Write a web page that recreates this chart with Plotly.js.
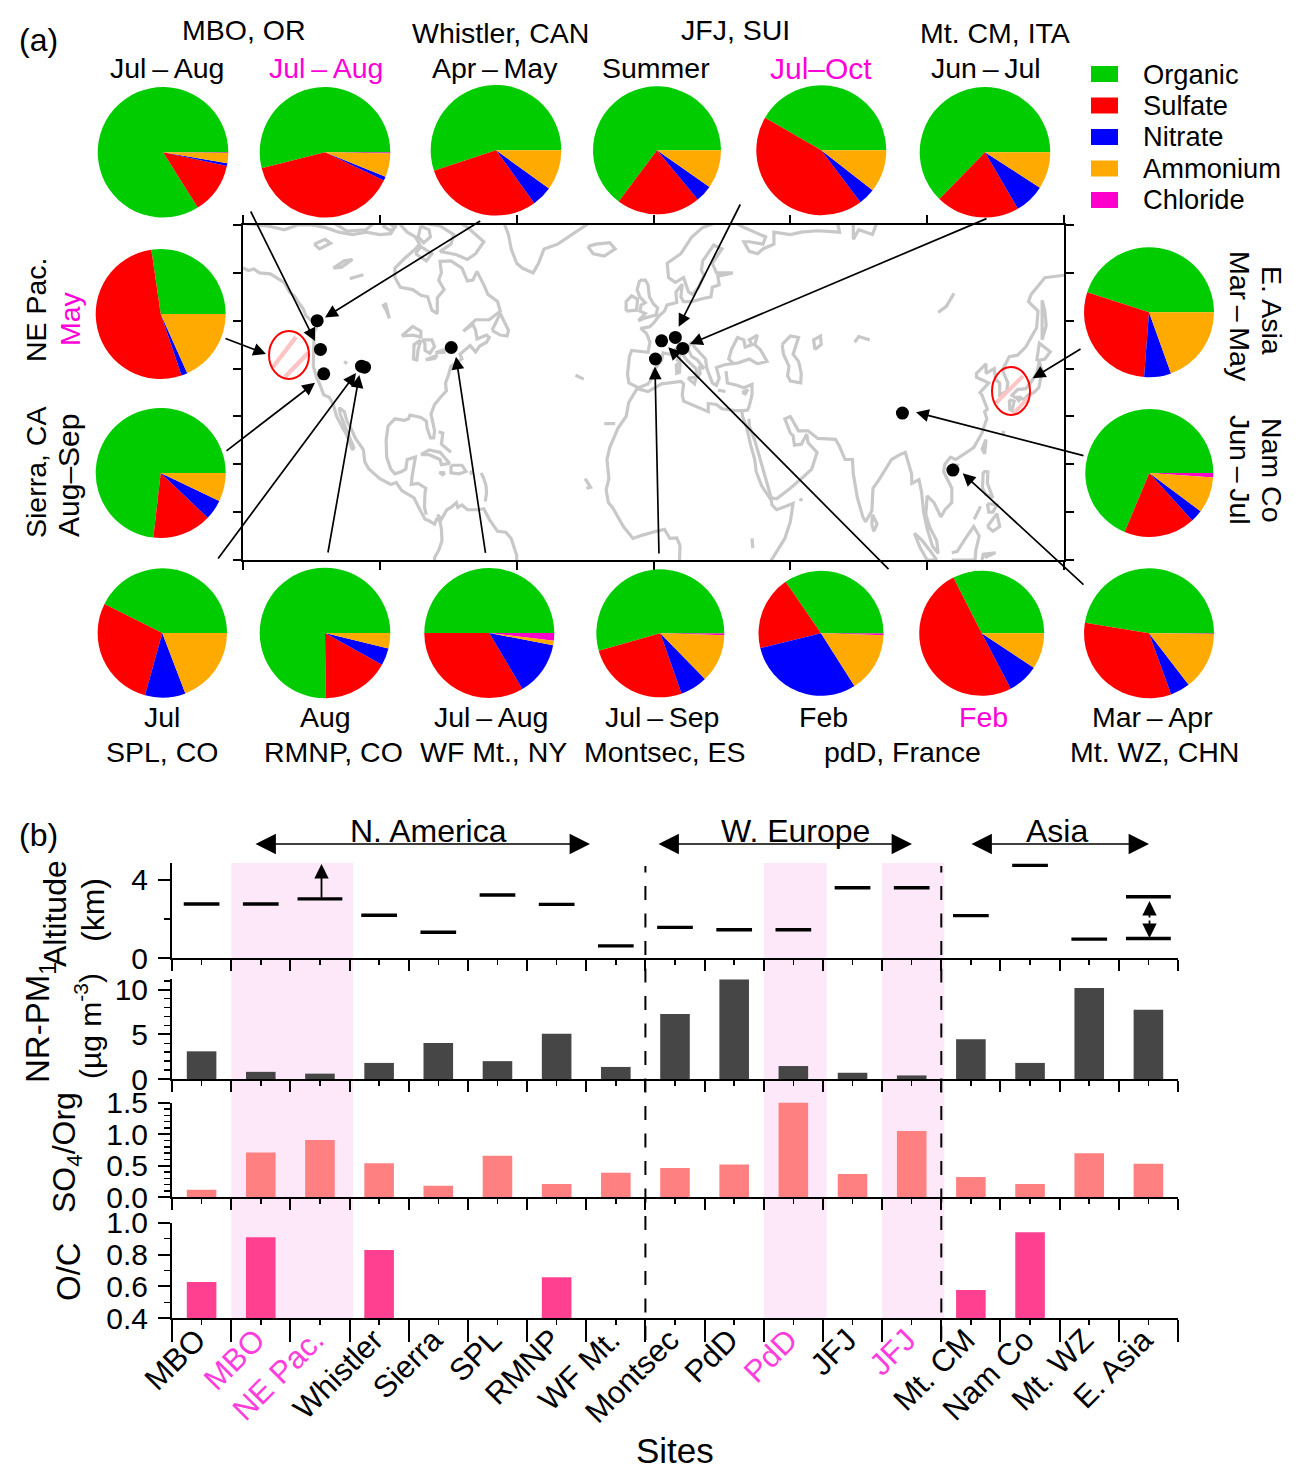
<!DOCTYPE html>
<html><head><meta charset="utf-8">
<script src="https://cdn.plot.ly/plotly-3.0.1.min.js"></script>
<style>html,body{margin:0;padding:0;background:#fff}</style></head>
<body><div id="g" style="width:1303px;height:1481px"></div>
<script>
// ---------- DATA: panel (b) ----------
const sites=["MBO","MBO","NE Pac.","Whistler","Sierra","SPL","RMNP","WF Mt.","Montsec","PdD","PdD","JFJ","JFJ","Mt. CM","Nam Co","Mt. WZ","E. Asia"];
const siteIsFree=[0,1,1,0,0,0,0,0,0,0,1,0,1,0,0,0,0];
const altitude=[2.77,2.77,3.03,2.19,1.32,3.23,2.75,0.62,1.57,1.45,1.45,3.6,3.6,2.17,4.75,0.97,1.0];
const altitudeUpper=[null,null,null,null,null,null,null,null,null,null,null,null,null,null,null,null,3.14];
const nrpm1=[3.1,0.8,0.6,1.8,4.03,2.0,5.07,1.35,7.27,11.15,1.45,0.7,0.4,4.44,1.8,10.2,7.76];
const so4org=[0.12,0.71,0.91,0.54,0.185,0.66,0.21,0.39,0.465,0.52,1.51,0.37,1.05,0.32,0.21,0.70,0.53];
const oc=[0.628,0.908,null,0.829,null,null,0.657,null,null,null,null,null,null,0.578,0.94,null,null];
// ---------- DATA: pies ----------
const species=["Organic","Sulfate","Nitrate","Ammonium","Chloride"];
const pieNames=["MBO","MBO FT","Whistler","JFJ summer","JFJ FT","Mt. CM","NE Pac.","Sierra","E. Asia","Nam Co","SPL","RMNP","WF Mt.","Montsec","PdD","PdD FT","Mt. WZ"];
const organic=[83.9,53.9,55.0,64.8,41.6,62.7,27.3,73.2,45.0,68.7,42.6,75.2,50.0,54.4,34.6,32.5,47.4];
const sulfate=[12.7,39.0,29.9,21.2,43.6,20.7,52.9,14.7,28.8,18.0,28.1,16.7,33.5,26.0,19.2,50.2,33.1];
const nitrate=[0.7,1.0,5.1,4.3,4.2,7.5,1.5,5.0,6.7,3.1,10.1,4.3,13.5,6.9,30.2,8.0,4.9];
const ammonium=[2.5,5.8,9.9,9.7,10.5,9.1,18.3,7.1,19.5,9.1,19.2,3.8,1.1,12.2,15.5,9.3,14.4];
const chloride=[0.15,0.3,0,0,0,0,0,0,0,1.1,0,0,1.9,0.5,0.5,0,0.15];
// ---------- DATA: sites on the map (lon, lat) ----------
const siteLon=[-122.9,-121.7,-120.5,-106.7,-105.6,-73.9,0.7,2.96,7.98,10.7,90.96,109.4];
const siteLat=[50.0,44.0,38.9,40.5,40.3,44.4,42.0,45.8,46.5,44.2,30.7,18.8];
// ---------- DATA: coastlines and lakes (lon, lat) ----------
const coastNAwest=[[-150,61],[-148,60.5],[-146,60.8],[-144,60],[-140,59.8],[-137,58.8],[-135,58],[-133,56],[-131,55],[-130,54],[-128,52.5],[-127,51],[-125,50],[-123,49],[-124,47.5],[-124,46],[-124.2,43],[-124.3,40.5],[-123,38],[-122,36.8],[-120.5,34.5],[-118.5,34],[-117,32.5],[-115.8,30],[-114,28],[-112,26],[-110,23],[-109.5,23.5],[-111,25.5],[-112.8,28],[-114.5,30.5],[-114.8,31.8],[-113,31],[-112,29],[-110.5,27.5],[-109,25.5],[-106,23],[-105.5,20.5],[-104,19],[-102,18],[-100,17],[-96,15.8],[-94,16.2],[-92,14.5],[-90,13.8],[-87.5,13],[-85.8,11],[-85,10],[-83.5,8.5],[-82,8.2],[-80,7.5],[-79,8.8],[-78,8],[-77.5,6.5],[-77.3,4],[-78.5,2],[-80,0.5],[-80,0]];
const coastNAeast=[[-83,9.5],[-83.7,11],[-83.5,14],[-83.2,15],[-86,16],[-88.5,15.8],[-88.2,17.5],[-87.5,20],[-87,21.5],[-90,21],[-90.5,19],[-92,18.5],[-94.5,18],[-96,19],[-97.5,21.5],[-97.7,25],[-97,28],[-94.5,29.5],[-91,29.2],[-89.5,29.5],[-89,30.3],[-85,29.8],[-83,29],[-82.7,27.5],[-81.5,25.5],[-80.3,25.5],[-80,27],[-81.3,30.5],[-80,32.5],[-77.8,34],[-75.7,35.3],[-76,37],[-75,38.5],[-74,40.5],[-71,41.5],[-70,42],[-70.7,43],[-67,44.8],[-65,43.5],[-63.5,44.7],[-61,45.5],[-60,46.5],[-61,47],[-64.5,46.2],[-65,48],[-66,49.2],[-69.5,47.8],[-65,50.2],[-60,50.2],[-56,52],[-57,54],[-60.5,55.5],[-62,57.5],[-64.5,60.3],[-66,58.5],[-68,58.3],[-70,61],[-74,62.5],[-78,62.4],[-77.5,60],[-78.5,58.5],[-76.5,56.5],[-79,54.8],[-79,51.5],[-81,52.2],[-82.5,55],[-85,55.3],[-88,56.5],[-92.5,57],[-94.5,59],[-94.5,61],[-91,63],[-87,65],[-85.5,66],[-87,67.5],[-90,68.5],[-94,71]];
const coastArctic=[[-150,70.4],[-145,70],[-140,69.7],[-135,69],[-130,70],[-125,70],[-120,69.5],[-115,68.5],[-110,68],[-105,68.5],[-100,68],[-96,68.2],[-94,70]];
const coastVictoria=[[-117,70.5],[-112,68.7],[-105,69],[-102,70.5]];
const coastMelville=[[-85,69.8],[-82,69],[-81.5,67.5],[-84,66.3],[-86,67.5],[-85,69.8]];
const coastKingWilliam=[[-99,69.8],[-96,68.8],[-94.5,69.5],[-97,70.5],[-99,69.8]];
const coastBanks=[[-126,70.5],[-123,70],[-121,70.6]];
const coastBaffin=[[-72,71],[-68,69.5],[-62,66.5],[-65,64],[-68,62.8],[-72,63.8],[-78,64.5],[-74,66],[-73,68],[-78,69.8],[-85,70.5]];
const coastSouthampton=[[-87,64],[-83,62.5],[-81,64],[-85,65.5],[-87,64]];
const coastGreenland=[[-55,71],[-53,68],[-52,65],[-50,62],[-48,61],[-44,60],[-42,62],[-40,65],[-35,66],[-30,68],[-25,70],[-22,71]];
const coastIceland=[[-24,65.5],[-22,64],[-18,63.5],[-14,65],[-16,66.3],[-21,66],[-24,65.5]];
const coastNewfoundland=[[-59,48],[-56,51.5],[-53,48],[-53.5,46.8],[-56,47],[-59,48]];
const coastSAcarib=[[-79,9.5],[-77.5,8.5],[-75.5,10.5],[-74,11],[-72,12],[-71.5,11],[-70,11.5],[-68,10.5],[-64,10.5],[-62,10.7],[-60,8.5],[-57,6],[-54,5.8],[-52,4.5],[-50,1],[-50,0]];
const coastCuba=[[-85,22],[-82,23],[-78,22.5],[-74.5,20.2],[-77.5,19.9],[-78,21],[-82,22],[-85,22]];
const coastHispaniola=[[-74,19.8],[-70,19.8],[-68.5,18.5],[-71,18],[-74,18.2],[-74,19.8]];
const coastJamaica=[[-78.3,18.3],[-76.3,18.2],[-77,17.8],[-78.3,18.3]];
const coastPuertoRico=[[-67.2,18.4],[-65.7,18.3],[-67.2,18]];
const coastBahamas=[[-78.5,26.8],[-77,26.5],[-77.5,24.2],[-76,23.5],[-74,22.5]];
const coastAntilles=[[-63,18.2],[-62,17],[-61.2,15.5],[-61,14],[-61.5,12.2]];
const coastMiddleBaja=[[-114,28],[-113,27]];
const lakeBear=[[-124,66],[-120,67],[-118,66.2],[-122,65],[-124,66]];
const lakeSlave=[[-117,61],[-113,62.5],[-110,62.8],[-114,61.2],[-117,61]];
const lakeAthabasca=[[-111,58.8],[-106,59.6]];
const lakeWinnipeg=[[-98,53.8],[-96.5,50.5],[-97.5,52],[-99,53.5]];
const lakeSuperior=[[-92,46.8],[-88,48.8],[-85,47.8],[-85,46.6],[-88,47],[-92,46.8]];
const lakeMichigan=[[-85,46],[-87.5,45],[-87.7,42],[-86.5,41.8],[-86,44],[-85,46]];
const lakeHuron=[[-84.5,46],[-81,46],[-80,44.6],[-81.7,43.2],[-83.5,43.8],[-83.5,45.2],[-84.5,46]];
const lakeErie=[[-83.3,41.8],[-79,42.8],[-80,42.1],[-83.3,41.8]];
const lakeOntario=[[-79.7,43.3],[-76.3,44],[-76.5,43.4],[-79.7,43.3]];
const lakeSalt=[[-113,41.5],[-112,41]];
const coastAfricaW=[[-6,35.8],[-9,33],[-10,30],[-13,27.5],[-16,23.5],[-17,21],[-16.3,17],[-17.3,14.7],[-16.5,12],[-15,11],[-13.5,9.5],[-11,7],[-7.5,4.5],[-4,5.2],[1,6],[4,6.4],[6,4.5],[8.5,4.6],[9.7,3],[9.5,0]];
const coastAfricaN=[[-6,35.8],[-2,35.2],[3,36.8],[10,37.3],[11,36.8],[10.5,34.5],[11,33.2],[15,32.3],[20,31],[20,32.7],[23,32.5],[25,31.6],[30,31.2],[32.3,31.2],[32.5,30],[34,27.8],[35.5,24],[37,21],[37.5,18.5],[39.5,15.5],[43,12.5],[43.3,11.5],[45,10.5],[51,11.8],[50,8],[48,4.5],[44,1],[42,-1]];
const coastAsiaS=[[34.9,29.5],[35,28],[37,25],[39,21],[41,17.5],[43,13],[45,12.8],[50,15],[55,17.5],[57.8,19],[59.8,22.5],[56.5,24.5],[56,26.3],[54,24.2],[51.5,24],[51,26],[50,26.5],[48,29.5],[50,30],[53,27],[56.5,27],[60,25.4],[66.5,25.2],[68,23.7],[70,21],[72.7,21],[73,18],[74.5,13],[76.5,9],[77.5,8],[79.8,10.3],[80.2,15],[82.3,16.7],[87,21],[90,22],[92,22.5],[94.3,18],[94.4,16],[97,16.8],[98,14],[98.7,10],[100,6.5],[102,2.8],[104,1.4],[103.5,4],[101,6.8],[99.5,9.5],[100,13.4],[102.5,12],[105,9],[106.5,10.5],[109,12],[109,15],[106,18.5],[106.5,20],[108.5,21.5],[110.5,21],[114,22.4],[117,23.5],[120,26.5],[121.8,29.5],[121,31],[122,31.5],[120,34.5],[119.3,35],[122.5,37],[120,37.7],[118,38.2],[118,39],[121.5,41],[121.5,39],[124.5,40],[125,37.7],[126.5,37],[126.5,34.5],[129,35.2],[129.5,37],[127.5,39.7],[130,42.5],[133,42.8],[136,44.5],[140,48.5],[140.5,52],[137,54],[138,55.5],[143,59],[150,59.5]];
const coastEuropeN=[[-5.5,36],[-9,37],[-9.5,38.8],[-8.8,42.5],[-8,43.8],[-2,43.4],[-1.3,45.5],[-2.5,47.3],[-4.7,48.4],[-1.5,48.7],[0,49.5],[2,51],[4,52],[5,53.3],[8.5,53.8],[8.2,56],[10.5,57.6],[10,55],[11,54],[14,54],[18.5,54.7],[21,55],[21.5,57],[24,57.5],[23.5,59.3],[29,60],[23,60],[21.5,62],[25,65],[22,65.8],[18,62.5],[17.5,60.5],[18.5,59.5],[16.5,57],[14.3,55.5],[12.8,56],[11,59],[8,58],[5.5,59],[5,62],[10,64],[14,67.5],[18,69.5],[23,70.5],[28,71],[31,70],[33,69.5],[41,67.5],[40,66],[35,66.5],[33,66.5],[35,64.5],[38,64],[40,65],[44,66],[44,68.5],[50,68],[54,68.5],[60,68.8],[68,68.5],[67,71],[73,71.5],[73,67],[75,69],[80,68],[82,71]];
const coastMed=[[-5.5,36],[-2,36.8],[-0.5,38],[0,39.5],[3,41.8],[3.5,43.3],[6,43],[8.5,44.3],[10.5,43],[12.3,41.7],[15.5,40],[16,38],[17,39],[16.8,40.5],[18.5,40],[16,41.8],[14,42.5],[12.5,44.2],[13.8,45.6],[15,44.5],[19,42],[19.5,40],[21.5,37],[23,36.5],[24,38],[23,40.2],[26,40.8],[29,41],[31,41.2],[35,42],[38,41],[41.5,41.5],[39,44],[37,45],[38,47],[35,46],[36,45],[33.5,44.5],[33,46],[30.7,46.5],[28.5,44],[27.5,42],[29,41.2]];
const coastTurkey=[[26.5,39.5],[27,37],[30.5,36.5],[33,36],[36,36.7],[36,34.5],[34.9,32],[34.3,31.3],[32.3,31.2]];
const coastGB=[[-5,58.5],[-3,58.5],[-2,57.5],[-1.5,55],[0,53.5],[1.5,52.7],[1,51.2],[-3,50.6],[-5.5,50],[-3,51.5],[-5,52],[-4.5,53.3],[-3,53.8],[-5,55],[-6,56.5],[-5,58.5]];
const coastIreland=[[-10,52],[-6.2,52.2],[-5.8,54.5],[-8,55.2],[-10,54],[-10,52]];
const coastCorsica=[[9.4,43],[9.5,41.6],[8.7,41.8],[9.4,43]];
const coastSardinia=[[8.3,41],[9.7,41],[9.5,39.2],[8.5,39],[8.3,41]];
const coastSicily=[[12.5,38],[15.5,38.2],[15,36.8],[12.5,38]];
const coastCrete=[[23.6,35.5],[26.3,35.2]];
const coastCyprus=[[32.4,35],[34.5,35.6],[33.5,34.7],[32.4,35]];
const coastCaspian=[[47,45],[50,46.8],[53,46.5],[52,44.5],[51,43],[53,41.5],[54,39],[53.8,37],[50,37.4],[49,38.5],[49.5,40.5],[47.5,43],[47,45]];
const lakeAral=[[59,44],[58.5,46],[61,46.8],[61.3,45],[59,44]];
const lakeBalkhash=[[73.5,45.5],[75,46.7],[79,46]];
const lakeBaikal=[[104,51.7],[107,53],[109.8,55.7]];
const coastSakhalin=[[142,54.3],[143,52],[143.5,49],[142,46],[142,50],[142,54.3]];
const coastHokkaido=[[140,41.6],[141,45.3],[145,43.5],[143,42],[140,41.6]];
const coastHonshu=[[141,41.4],[142,39.5],[140.8,36],[139,35],[136.8,34.4],[135.5,33.6],[132,34],[131,34.4],[133,35.6],[136,35.8],[138,37.2],[140,39],[141,41.4]];
const coastKyushu=[[130,33.5],[131.8,33.2],[131,31.2],[130.2,31.5],[130,33.5]];
const coastShikoku=[[132.5,34],[134.5,34],[133.5,33.3],[132.5,34]];
const coastRyukyu=[[128,27],[127.7,26.2]];
const coastTaiwan=[[121.5,25.2],[121,22.2],[120.1,23.2],[121.5,25.2]];
const coastHainan=[[109,20],[111,19.8],[109.5,18.2],[109,20]];
const coastLuzon=[[120.5,18.5],[122.2,18.4],[122,16],[124,13],[121.5,13.7],[120.2,15],[120.5,18.5]];
const coastMindanao=[[122,7],[125.5,9.7],[126.5,7],[124,6],[122,7]];
const coastVisayas=[[122,11.8],[125.5,11.5],[124,10],[122.5,10],[122,11.8]];
const coastPalawan=[[117.2,8.5],[119.5,11.2]];
const coastBorneo=[[109,1.5],[111,1.8],[114,4.5],[117,7],[119,5],[117.8,2],[117.5,0],[109,0]];
const coastSumatra=[[95.3,5.6],[98,4.2],[101,2],[103.5,0],[100,0],[97.5,2.5],[95.3,5.6]];
const coastSulawesi=[[120,0],[120.5,1.2],[125,1.5],[121,0.5]];
const coastSriLanka=[[80,9.5],[81.7,7.5],[80.5,6],[79.8,7.5],[80,9.5]];
const coastSocotra=[[53.3,12.7],[54.5,12.5]];
const lakeTurkana=[[36,4.5],[36.3,2.5]];
const coastCanary=[[-18,28.5],[-14,28.5]];
const coastCapeVerde=[[-25,17],[-23,15.2],[-24.5,15]];
const coastAzores=[[-28.5,38.6],[-25.5,37.8]];
const allCoast=[coastNAwest,coastNAeast,coastArctic,coastVictoria,coastMelville,coastKingWilliam,coastBanks,coastBaffin,coastSouthampton,coastGreenland,coastIceland,coastNewfoundland,coastSAcarib,coastCuba,coastHispaniola,coastJamaica,coastPuertoRico,coastBahamas,coastAntilles,coastMiddleBaja,lakeBear,lakeSlave,lakeAthabasca,lakeWinnipeg,lakeSuperior,lakeMichigan,lakeHuron,lakeErie,lakeOntario,lakeSalt,coastAfricaW,coastAfricaN,coastAsiaS,coastEuropeN,coastMed,coastTurkey,coastGB,coastIreland,coastCorsica,coastSardinia,coastSicily,coastCrete,coastCyprus,coastCaspian,lakeAral,lakeBalkhash,lakeBaikal,coastSakhalin,coastHokkaido,coastHonshu,coastKyushu,coastShikoku,coastRyukyu,coastTaiwan,coastHainan,coastLuzon,coastMindanao,coastVisayas,coastPalawan,coastBorneo,coastSumatra,coastSulawesi,coastSriLanka,coastSocotra,lakeTurkana,coastCanary,coastCapeVerde,coastAzores];

// ---------- LAYOUT CONSTANTS ----------
const W=1303,H=1481,FONT='"Liberation Sans",Arial,sans-serif',PINK='#ff00d8',TICKPINK='#ff3cdc';
const speciesColors=['#00cc00','#ff0000','#0000ff','#ffaa00','#ff00cc'];
const piePos=[[163,152.3,65.3],[325,152.3,65.3],[496,150.3,65.3],[657,150.3,64],[821.3,150.3,65],[985,152.3,65.3],[160.7,314,65],[160.7,473,65],[1149,312.3,65],[1149.3,473,64],[162.3,633,64.7],[325,633,65.3],[489.3,633,65],[660.3,633.3,64],[821,633.3,62.5],[981.7,633.3,62.5],[1149,633.3,65]];
const X0=172,X1=1178;
const px=x=>x/W, py=y=>1-y/H;
const xs=sites.map((_,i)=>i+0.5);
const traces=[];
// pies: Plotly ends the first listed slice at the rotation angle, so chloride goes first
const pieOrder=[4,0,1,2,3];
pieNames.forEach((n,i)=>{const [cx,cy,r]=piePos[i];
 const vals=[organic[i],sulfate[i],nitrate[i],ammonium[i],chloride[i]];
 traces.push({type:'pie',name:n,labels:pieOrder.map(k=>species[k]),values:pieOrder.map(k=>vals[k]),
  sort:false,direction:'counterclockwise',rotation:90,textinfo:'none',hoverinfo:'label+percent',showlegend:false,
  marker:{colors:pieOrder.map(k=>speciesColors[k]),line:{width:0}},
  domain:{x:[px(cx-r),px(cx+r)],y:[py(cy+r),py(cy-r)]}});
});
// map
const lonOut=[],latOut=[];
allCoast.forEach(seg=>{seg.forEach(p=>{lonOut.push(p[0]);latOut.push(p[1]);});lonOut.push(null);latOut.push(null);});
traces.push({type:'scatter',mode:'lines',x:lonOut,y:latOut,xaxis:'x5',yaxis:'y5',line:{color:'#c8c8c8',width:3.2},hoverinfo:'skip',showlegend:false,connectgaps:false});
traces.push({type:'scatter',mode:'markers',x:siteLon,y:siteLat,xaxis:'x5',yaxis:'y5',marker:{color:'#000',size:13},showlegend:false});
// altitude
const altSize=sites.map((s,i)=>(i===2||i===16)?32:25.5);
traces.push({type:'scatter',mode:'markers',x:xs,y:altitude,xaxis:'x4',yaxis:'y4',showlegend:false,
 marker:{symbol:'line-ew',size:altSize,opacity:1,color:'#000',line:{color:'#000',width:3.4}}});
traces.push({type:'scatter',mode:'markers',x:xs,y:altitudeUpper,xaxis:'x4',yaxis:'y4',showlegend:false,
 marker:{symbol:'line-ew',size:32,opacity:1,color:'#000',line:{color:'#000',width:3.4}}});
traces.push({type:'bar',x:xs,y:nrpm1,width:0.5,xaxis:'x3',yaxis:'y3',marker:{color:'#464646',line:{width:0}},showlegend:false});
traces.push({type:'bar',x:xs,y:so4org,width:0.5,xaxis:'x2',yaxis:'y2',marker:{color:'#ff8080',line:{width:0}},showlegend:false});
traces.push({type:'bar',x:xs,y:oc,base:0,width:0.5,xaxis:'x',yaxis:'y',marker:{color:'#ff4090',line:{width:0}},showlegend:false});

const integerTicks=Array.from({length:18},(_,i)=>i);
function xAx(anchor,dom){return {anchor:anchor,domain:[px(X0),px(X1)],range:[0,17],showgrid:false,zeroline:false,showline:true,linewidth:2,linecolor:'#000',
 tickmode:'array',tickvals:integerTicks,ticktext:integerTicks.map(()=>''),ticks:'outside',ticklen:11,tickwidth:2,tickcolor:'#000',showticklabels:false,
 minor:{tickmode:'array',tickvals:xs,ticks:'outside',ticklen:5,tickwidth:1.5,tickcolor:'#000'},fixedrange:true};}
function yAx(anchor,top,bot,range,dtick,minor,fmt,tick0){return {anchor:anchor,domain:[py(bot),py(top)],range:range,showgrid:false,zeroline:false,showline:true,linewidth:2,linecolor:'#000',
 ticks:'outside',ticklen:12,tickwidth:2,tickcolor:'#000',tick0:tick0,dtick:dtick,tickformat:fmt,tickfont:{family:FONT,size:30,color:'#000'},ticklabelstandoff:4,
 minor:{dtick:minor,tick0:tick0,ticks:'outside',ticklen:6,tickwidth:1.5,tickcolor:'#000'},fixedrange:true};}

const tickLabels=sites.map((s,i)=>siteIsFree[i]?`<span style="color:${TICKPINK}">${s}</span>`:s);
const xBottom=xAx('y');
Object.assign(xBottom,{tickmode:'array',tickvals:xs,ticktext:tickLabels,ticklen:5,tickwidth:1.5,showticklabels:true,tickangle:-45,
  ticklabelstandoff:-16,ticklabelshift:-5,
  tickfont:{family:FONT,size:31,color:'#000'},
  minor:{tickmode:'array',tickvals:integerTicks,ticks:'outside',ticklen:22,tickwidth:2,tickcolor:'#000'}});

// text helper
const ann=[];
function T(t,x,y,o={}){ann.push(Object.assign({text:t,x:px(x),y:py(y),xref:'paper',yref:'paper',xanchor:'center',yanchor:'middle',showarrow:false,font:{family:FONT,size:o.size||28.5,color:o.color||'#000'}},o.angle!==undefined?{textangle:o.angle}:{}));}
function A(x0,y0,x1,y1,o={}){ann.push({text:'',x:px(x1),y:py(y1),xref:'paper',yref:'paper',axref:'pixel',ayref:'pixel',ax:x0-x1,ay:y0-y1,showarrow:true,arrowhead:o.head||2,arrowsize:o.size||1.5,arrowwidth:o.w||1.7,arrowcolor:'#000',arrowside:o.side||'end',standoff:0,startstandoff:0,startarrowhead:o.head||2,startarrowsize:o.size||1.5});}

const ts='\u2009–\u2009';
T('(a)',38,40,{size:32});T('(b)',38,835,{size:32});
T('MBO, OR',244,30);T('Jul'+ts+'Aug',167,68);T('Jul'+ts+'Aug',326,68,{color:PINK});
T('Whistler, CAN',500,33);T('Apr'+ts+'May',495,68);
T('JFJ, SUI',735,30);T('Summer',656,68);T('Jul–Oct',821,68,{color:PINK,size:30});
T('Mt. CM, ITA',995,33);T('Jun'+ts+'Jul',986,68);
T('Jul',162,717);T('SPL, CO',162,752);T('Aug',325,717);T('RMNP, CO',333,752);
T('Jul'+ts+'Aug',491,717);T('WF Mt., NY',494,752);T('Jul'+ts+'Sep',662,717);T('Montsec, ES',665,752);
T('Feb',823,717);T('Feb',984,717,{color:PINK});T('pdD, France',902,752);
T('Mar'+ts+'Apr',1152,717);T('Mt. WZ, CHN',1154,752);
T('NE Pac.',36,310,{angle:-90});T('May',70,319,{angle:-90,color:PINK});
T('Sierra, CA',36,473,{angle:-90});T('Aug–Sep',68,476,{angle:-90,size:30});
T('E. Asia',1272,310,{angle:90});T('Mar'+ts+'May',1240,316,{angle:90});
T('Nam Co',1272,470,{angle:90});T('Jun'+ts+'Jul',1240,470,{angle:90});
T('N. America',428,831,{size:32});T('W. Europe',795,831,{size:32});T('Asia',1057,831,{size:32});
T('Sites',675,1450,{size:35});
T('Altitude',55,914,{angle:-90,size:32});T('(km)',93,910,{angle:-90,size:32});
T('NR-PM<sub>1</sub>',40,1023,{angle:-90,size:33});T('(µg m<sup>-3</sup>)',88,1026,{angle:-90,size:30});
T('SO<sub>4</sub>/Org',66,1153,{angle:-90,size:32});T('O/C',68,1272,{angle:-90,size:33});
// legend
const legY=[74,105.5,137,168.5,200];
const shapes=[];
species.forEach((s,i)=>{T(s,1141,legY[i],{size:27.3});const a=ann[ann.length-1];a.xanchor='left';
 shapes.push({type:'rect',xref:'paper',yref:'paper',x0:px(1091),x1:px(1118),y0:py(legY[i]+8),y1:py(legY[i]-8),fillcolor:speciesColors[i],line:{width:0}});});
// bands
[[1,3.06],[10,11.06],[12,13.05]].forEach(b=>shapes.push({type:'rect',layer:'below',xref:'x',yref:'paper',x0:b[0],x1:b[1],y0:py(1318),y1:py(863),fillcolor:'#fde8f9',line:{width:0}}));
// dashed
[8,13].forEach(v=>shapes.push({type:'line',xref:'x',yref:'paper',x0:v,x1:v,y0:py(1340),y1:py(866),line:{color:'#000',width:2,dash:'14px,13.5px'}}));
// ellipses with hatch, positioned on the map
function L(x0,y0,x1,y1,c,w){shapes.push({type:'line',xref:'paper',yref:'paper',x0:px(x0),x1:px(x1),y0:py(y0),y1:py(y1),line:{color:c,width:w}});}
L(273,367,296,337,'#ffc4c4',4.5);L(285,377,308,353,'#ffc4c4',4.5);
L(996,403,1023,376,'#ffc4c4',4);L(1013,414,1028,398,'#ffc4c4',4);
[[269,309,331,379],[992,1030,367,415]].forEach(e=>shapes.push({type:'circle',xref:'paper',yref:'paper',x0:px(e[0]),x1:px(e[1]),y0:py(e[3]),y1:py(e[2]),line:{color:'#ff0000',width:2}}));
// arrows on the map
A(250,210,315,341);A(481.7,220,325,317.5);A(741,203,678.7,326.7);A(988,218,690,344);
A(224,338,266,354);A(225,452,315,382.7);A(217,560,356,373);A(327.7,554,359.3,375);
A(485.7,554.3,456,356.7);A(659,555,655,366.7);A(890,570.7,668.3,347.3);
A(1082,348,1032.7,378.3);A(1085,456,916,412.3);A(1085,586,962.7,473.3);
// region arrows
const big={side:'end+start',head:2,size:2.4,w:1.7};
A(254,844,590,844,big);A(657,844,912,844,big);A(970,844,1149,844,big);
A(321.5,899,321.5,864,{size:1.6,w:1.8});A(1149.5,919,1149.5,901,{size:1.6,w:1.8});A(1149.5,919,1149.5,938,{size:1.6,w:1.8});

const layout={width:W,height:H,margin:{l:0,r:0,t:0,b:0},paper_bgcolor:'#fff',plot_bgcolor:'rgba(0,0,0,0)',font:{family:FONT,color:'#000'},showlegend:false,bargap:0.5,
 xaxis:xBottom,
 xaxis2:xAx('y2'),xaxis3:xAx('y3'),xaxis4:xAx('y4'),
 yaxis:yAx('x',1222.7,1318.3,[0.4,1.0],0.2,0.1,'.1f',0.4),
 yaxis2:yAx('x2',1102.7,1197.3,[0,1.5],0.5,0.1,'.1f',0),
 yaxis3:yAx('x3',979,1079,[0,11.2],5,1,'d',0),
 yaxis4:yAx('x4',863,958,[0,4.87],4,2,'d',0),
 xaxis5:{anchor:'y5',domain:[px(243),px(1064)],range:[-150,150],tick0:-150,dtick:50,showgrid:false,zeroline:false,showline:true,mirror:'ticks',linewidth:2,linecolor:'#000',ticks:'outside',ticklen:8,tickwidth:2,tickcolor:'#000',showticklabels:false,fixedrange:true},
 yaxis5:{anchor:'x5',domain:[py(560),py(225)],range:[0,70],tick0:0,dtick:10,showgrid:false,zeroline:false,showline:true,mirror:'ticks',linewidth:2,linecolor:'#000',ticks:'outside',ticklen:8,tickwidth:2,tickcolor:'#000',showticklabels:false,fixedrange:true},
 shapes:shapes,annotations:ann};
Plotly.newPlot('g',traces,layout,{displayModeBar:false,staticPlot:true});
</script></body></html>
